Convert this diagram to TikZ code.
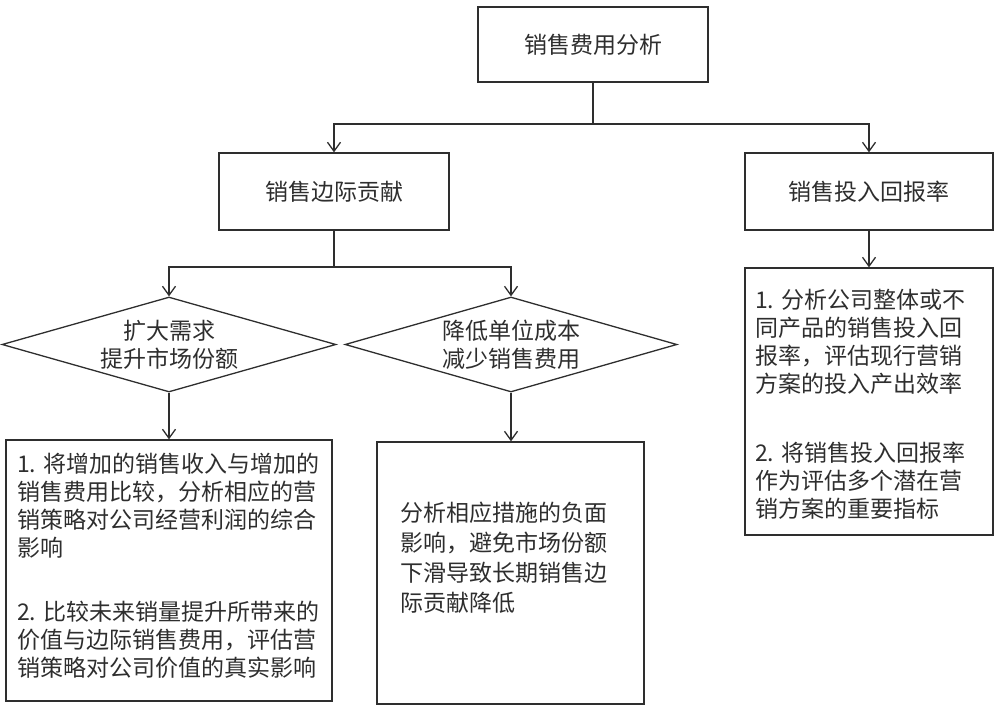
\documentclass[tikz,border=0pt]{standalone}
\usepackage{fontspec}
\newfontfamily\cjk{Noto Sans CJK SC}
\usetikzlibrary{shapes.geometric,arrows.meta}
\definecolor{ink}{HTML}{2E2E2E}
\begin{document}
\begin{tikzpicture}[x=1pt,y=-1pt,
  every node/.style={font=\cjk\fontsize{23}{28}\selectfont, text=ink},
  box/.style={draw=ink, line width=1.3pt, rectangle, inner sep=0pt},
  dia/.style={draw=ink, line width=1.3pt, diamond, aspect=3.5, inner sep=0pt, align=center},
  conn/.style={draw=ink, line width=1.3pt},
  arr/.style={conn, -{Straight Barb[length=9pt,width=13pt]}},
  txt/.style={align=left, anchor=west, inner sep=0pt}
]
\useasboundingbox (0,0) rectangle (998,707);
% boxes
\node[box, minimum width=230pt, minimum height=75pt] (b1) at (593,44.5) {销售费用分析\hspace{24pt}};
\node[box, minimum width=230pt, minimum height=77pt] (b2) at (334,191.5) {销售边际贡献\hspace{24pt}};
\node[box, minimum width=248pt, minimum height=77pt] (b3) at (869,191.5) {销售投入回报率\hspace{28pt}};
\node[dia, minimum width=334pt, minimum height=95pt] (d1) at (169,344.5) {扩大需求\\提升市场份额};
\node[dia, minimum width=332pt, minimum height=95pt] (d2) at (511,344.5) {降低单位成本\\减少销售费用};
\node[box, minimum width=326pt, minimum height=261pt] (b4) at (169,570.5) {};
\node[box, minimum width=267pt, minimum height=262pt] (b5) at (510.5,573) {};
\node[box, minimum width=248pt, minimum height=267pt] (b6) at (869,401.5) {};
% texts in large boxes
\node[txt] (t4) at (17,565.5) {1. 将增加的销售收入与增加的\\销售费用比较，分析相应的营\\销策略对公司经营利润的综合\\影响\\[36pt]2. 比较未来销量提升所带来的\\价值与边际销售费用，评估营\\销策略对公司价值的真实影响};
\node[txt, font=\cjk\fontsize{23}{30}\selectfont] (t5) at (400,558) {分析相应措施的负面\\影响，避免市场份额\\下滑导致长期销售边\\际贡献降低};
\node[txt] (t6) at (755,404.5) {1. 分析公司整体或不\\同产品的销售投入回\\报率，评估现行营销\\方案的投入产出效率\\[41pt]2. 将销售投入回报率\\作为评估多个潜在营\\销方案的重要指标};
% junctions
\coordinate (j1) at (593,124);
\coordinate (j2) at (334,267);
% connectors
\draw[conn] (b1.south) -- (j1);
\draw[arr] (j1) -| (b2.north);
\draw[arr] (j1) -| (b3.north);
\draw[conn] (b2.south) -- (j2);
\draw[arr] (j2) -| (d1.north);
\draw[arr] (j2) -| (d2.north);
\draw[arr] (d1.south) -- (d1.south |- b4.north);
\draw[arr] (d2.south) -- (d2.south |- b5.north);
\draw[arr] (b3.south) -- (b6.north);
\end{tikzpicture}
\end{document}
